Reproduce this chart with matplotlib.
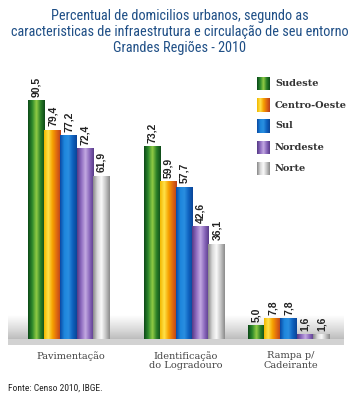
import numpy as np
import matplotlib
matplotlib.use("Agg")
import matplotlib.pyplot as plt
from matplotlib import font_manager
from matplotlib.colors import LinearSegmentedColormap

# data
categories = ["Pavimentação", "Identificação\ndo Logradouro", "Rampa p/\nCadeirante"]
regions = ["Sudeste", "Centro-Oeste", "Sul", "Nordeste", "Norte"]
values = {
    "Sudeste":      [90.5, 73.2, 5.0],
    "Centro-Oeste": [79.4, 59.9, 7.8],
    "Sul":          [77.2, 57.7, 7.8],
    "Nordeste":     [72.4, 42.6, 1.6],
    "Norte":        [61.9, 36.1, 1.6],
}
labels = {
    "Sudeste":      ["90,5", "73,2", "5,0"],
    "Centro-Oeste": ["79,4", "59,9", "7,8"],
    "Sul":          ["77,2", "57,7", "7,8"],
    "Nordeste":     ["72,4", "42,6", "1,6"],
    "Norte":        ["61,9", "36,1", "1,6"],
}

# cylinder-like shading, left to right
shades = {
    "Sudeste":      ["#0c4a18", "#2e8a2c", "#92cc44", "#2a7f28", "#0d4a18"],
    "Centro-Oeste": ["#f2b800", "#ffe24a", "#f7a200", "#e06a10", "#b9401c"],
    "Sul":          ["#0a4aa4", "#1d86dc", "#2a8fe0", "#0f62bf", "#0a4598"],
    "Nordeste":     ["#563a86", "#8e6cc0", "#c3a9e2", "#8a68bc", "#5a3c8a"],
    "Norte":        ["#8a8a8a", "#d8d8d8", "#fafafa", "#c6c6c6", "#8c8c8c"],
}

names = {f.name for f in font_manager.fontManager.ttflist}
narrow = None
for cand in ["Liberation Sans Narrow", "Roboto Condensed", "Open Sans Condensed"]:
    if cand in names:
        narrow = cand
        break
cond_kw = {"family": narrow} if narrow else {"family": "DejaVu Sans", "stretch": "condensed"}

W, H = 359, 408
fig = plt.figure(figsize=(W / 100, H / 100), dpi=100)

# axes in pixel-like units: x in px, y in data units (baseline at y=339px)
px = 2.63
x_left, x_right = 8, 344
y_top, y_bot, y_base = 60, 345, 339
ax = fig.add_axes([x_left / W, (H - y_bot) / H, (x_right - x_left) / W, (y_bot - y_top) / H])
ax.axis("off")

# floor
floor = np.linspace(0, 1, 60).reshape(-1, 1)
floor_cmap = LinearSegmentedColormap.from_list("floor", ["#bdbdbd", "#d6d6d6", "#ebebeb", "#ffffff"])
ax.imshow(floor, extent=[x_left, x_right, 0, 9], origin="lower", cmap=floor_cmap,
          aspect="auto", zorder=0)
ax.axhspan(-(y_bot - y_base) / px, 0, color="#d2d2d2", zorder=0, lw=0)

centers = [68.5, 184, 288.5]
bw = 16.2
for i, reg in enumerate(regions):
    xs = [c + (i - 2) * bw for c in centers]
    bars = ax.bar(xs, values[reg], width=bw, color=shades[reg][2], zorder=2, lw=0)
    cmap = LinearSegmentedColormap.from_list(reg, shades[reg])
    grad = np.linspace(0, 1, 64).reshape(1, -1)
    for b, lab in zip(bars, labels[reg]):
        x0, w, h = b.get_x(), b.get_width(), b.get_height()
        ax.imshow(grad, extent=[x0, x0 + w, 0, h], cmap=cmap, aspect="auto", zorder=3)
        ax.text(x0 + w / 2 + 0.5, h + 1.5, lab, rotation=90, ha="center", va="bottom",
                fontsize=7.5, fontweight="bold", family="Liberation Sans", color="#222222", zorder=4)
ax.set_xlim(x_left, x_right)
ax.set_ylim(-(y_bot - y_base) / px, (y_base - y_top) / px)

# category labels
for c, cat in zip(centers, categories):
    fig.text((c + 2) / W, 1 - 351 / H, cat, ha="center", va="top", fontsize=7,
             family="DejaVu Serif", color="#444444", linespacing=1.1)

# legend
sw_y = [83.5, 105, 126, 147.5, 168.5]
for reg, yc in zip(regions, sw_y):
    sax = fig.add_axes([257 / W, 1 - (yc + 7) / H, 13 / W, 14 / H])
    sax.imshow(np.linspace(0, 1, 32).reshape(1, -1), aspect="auto",
               cmap=LinearSegmentedColormap.from_list(reg + "l", shades[reg]))
    sax.axis("off")
    fig.text(275 / W, 1 - yc / H, reg, ha="left", va="center", fontsize=7,
             family="DejaVu Serif", fontweight="bold", color="#333333")

# title
title = ("Percentual de domicilios urbanos, segundo as\n"
         "caracteristicas de infraestrutura e circulação de seu entorno\n"
         "Grandes Regiões - 2010")
fig.text(0.5, 1 - 9 / H, title, ha="center", va="top", fontsize=10.3, color="#1f4f86",
         linespacing=1.18, **cond_kw)

fig.text(8 / W, 1 - 388 / H, "Fonte: Censo 2010, IBGE.", ha="left", va="center",
         fontsize=6.8, color="#222222", **cond_kw)

fig.savefig("out.png", dpi=100)
